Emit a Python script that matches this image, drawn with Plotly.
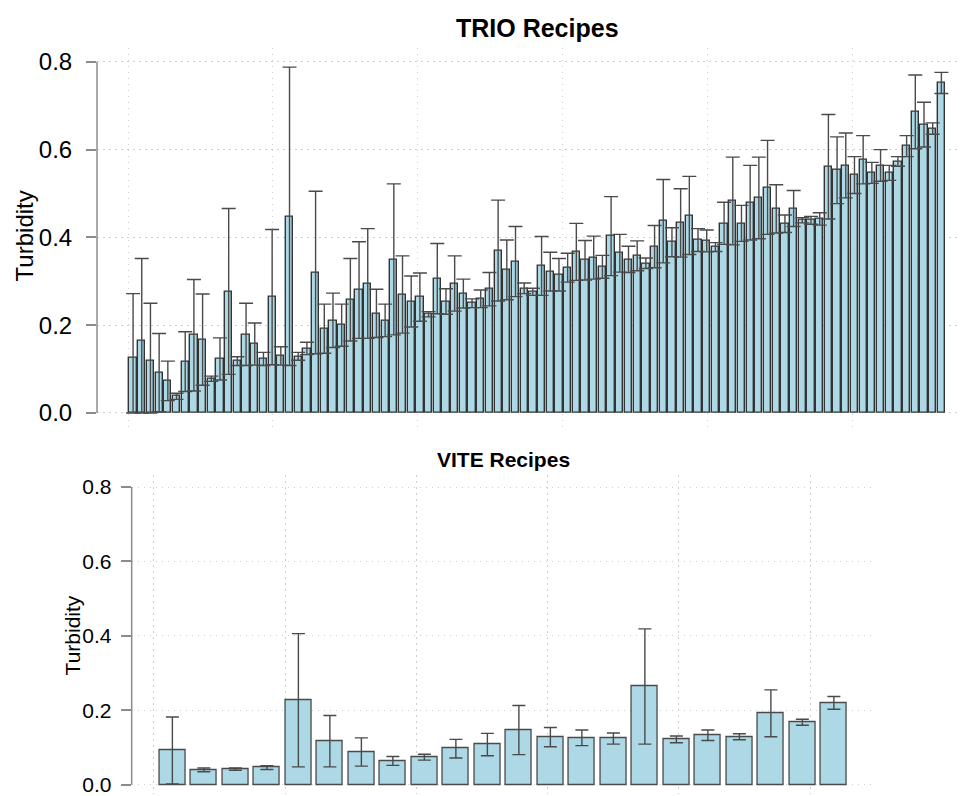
import plotly.graph_objects as go

# Mean turbidity and standard deviation per recipe, ordered by lower bound
trio_mean = [
    0.125, 0.164, 0.119, 0.092, 0.073, 0.038, 0.117, 0.177, 0.167, 0.078,
    0.123, 0.277, 0.118, 0.179, 0.157, 0.123, 0.264, 0.130, 0.448, 0.129,
    0.147, 0.320, 0.192, 0.211, 0.200, 0.258, 0.280, 0.295, 0.227, 0.211,
    0.350, 0.270, 0.254, 0.264, 0.225, 0.306, 0.254, 0.295, 0.272, 0.250,
    0.260, 0.282, 0.370, 0.326, 0.345, 0.284, 0.276, 0.335, 0.322, 0.315,
    0.331, 0.367, 0.348, 0.354, 0.333, 0.403, 0.364, 0.350, 0.358, 0.341,
    0.379, 0.437, 0.389, 0.433, 0.450, 0.394, 0.392, 0.378, 0.432, 0.483,
    0.432, 0.479, 0.490, 0.514, 0.465, 0.431, 0.466, 0.439, 0.439, 0.442,
    0.561, 0.553, 0.564, 0.542, 0.577, 0.547, 0.564, 0.547, 0.573, 0.608,
    0.686, 0.657, 0.648, 0.752,
]
trio_sd = [
    0.147, 0.188, 0.131, 0.089, 0.045, 0.007, 0.068, 0.127, 0.104, 0.006,
    0.048, 0.189, 0.010, 0.071, 0.048, 0.015, 0.154, 0.021, 0.340, 0.009,
    0.014, 0.185, 0.056, 0.062, 0.048, 0.094, 0.110, 0.125, 0.055, 0.037,
    0.172, 0.088, 0.058, 0.055, 0.006, 0.080, 0.029, 0.063, 0.033, 0.010,
    0.020, 0.038, 0.115, 0.068, 0.080, 0.012, 0.008, 0.067, 0.044, 0.037,
    0.033, 0.065, 0.045, 0.049, 0.026, 0.090, 0.043, 0.030, 0.034, 0.012,
    0.048, 0.095, 0.033, 0.078, 0.089, 0.026, 0.025, 0.010, 0.048, 0.100,
    0.041, 0.085, 0.093, 0.107, 0.055, 0.020, 0.041, 0.006, 0.009, 0.014,
    0.119, 0.076, 0.074, 0.042, 0.055, 0.024, 0.036, 0.017, 0.011, 0.024,
    0.084, 0.051, 0.013, 0.024,
]

vite_mean = [
    0.092, 0.040, 0.042, 0.046, 0.227, 0.117, 0.088, 0.064, 0.074, 0.097,
    0.108, 0.147, 0.128, 0.126, 0.124, 0.264, 0.122, 0.133, 0.129, 0.192,
    0.168, 0.220,
]
vite_sd = [
    0.090, 0.005, 0.003, 0.005, 0.179, 0.069, 0.038, 0.012, 0.008, 0.025,
    0.030, 0.066, 0.026, 0.021, 0.015, 0.155, 0.009, 0.014, 0.008, 0.063,
    0.008, 0.017,
]

y_ticks = [0.0, 0.2, 0.4, 0.6, 0.8]
y_tick_labels = ["0.0", "0.2", "0.4", "0.6", "0.8"]

W, H = 961, 796
FONT = "Liberation Sans, Arial, Helvetica, sans-serif"
BAR_FILL = "#ADD8E6"
GRID = "#cfcfcf"
GRID_DASH = "1.5px,4.5px"
AXIS_GREY = "#8c8c8c"


def bar_centres(n):
    # barplot layout: unit-width bars separated by 0.2
    return [1.2 * k - 0.5 for k in range(1, n + 1)]


def lower_err(mean, sd):
    # turbidity cannot drop below zero
    return [min(s, m) for m, s in zip(mean, sd)]


def px_x(p):
    return p / W


def px_y(p):
    return 1 - p / H


fig = go.Figure()

fig.add_trace(go.Bar(
    x=bar_centres(len(trio_mean)), y=trio_mean, width=1.0,
    marker=dict(color=BAR_FILL, line=dict(color="#333333", width=1.4)),
    error_y=dict(type="data", symmetric=False, array=trio_sd,
                 arrayminus=lower_err(trio_mean, trio_sd),
                 color="#4a4a4a", thickness=1.4, width=7),
    xaxis="x", yaxis="y", showlegend=False,
))

fig.add_trace(go.Bar(
    x=bar_centres(len(vite_mean)), y=vite_mean, width=1.0,
    marker=dict(color=BAR_FILL, line=dict(color="#4a4a4a", width=1.3)),
    error_y=dict(type="data", symmetric=False, array=vite_sd,
                 arrayminus=lower_err(vite_mean, vite_sd),
                 color="#4a4a4a", thickness=1.4, width=6.5),
    xaxis="x2", yaxis="y2", showlegend=False,
))

grid_common = dict(showgrid=True, gridcolor=GRID, griddash=GRID_DASH, gridwidth=1,
                   zeroline=False, showline=False)

# Top panel: x pixel 128 is position 0, 7.243 px per unit; y pixel 414 is 0, 440 px per unit
top_x_range = [(97 - 128) / 7.243, (W - 128) / 7.243]
top_y_range = [-0.032, 0.832]
top_dom_y = [px_y(414 + 0.032 * 440), px_y(414 - 0.832 * 440)]

# Bottom panel: x pixel 154 is position 0, 26.25 px per unit; y pixel 786.7 is 0, 373 px per unit
bot_x_range = [-0.85, 27.45]
bot_dom_x = [px_x(154 - 0.85 * 26.25), px_x(154 + 27.45 * 26.25)]
bot_y_range = [(786.7 - H) / 373, 0.832]
bot_dom_y = [0.0, px_y(786.7 - 0.832 * 373)]

fig.update_layout(
    width=W, height=H, autosize=False,
    margin=dict(l=0, r=0, t=0, b=0, pad=0),
    paper_bgcolor="white", plot_bgcolor="white",
    font=dict(family=FONT, color="black"),
    bargap=0,
    xaxis=dict(domain=[px_x(97), 1.0], range=top_x_range, anchor="y",
               tickvals=[0, 20, 40, 60, 80, 100], showticklabels=False, ticks="",
               **grid_common),
    yaxis=dict(domain=top_dom_y, range=top_y_range, anchor="x",
               tickvals=y_ticks, ticktext=y_tick_labels,
               ticks="outside", ticklen=10, tickwidth=1.5, tickcolor=AXIS_GREY,
               ticklabelstandoff=9, ticklabeloverflow="allow",
               tickfont=dict(size=24, family=FONT, color="black"),
               **grid_common),
    xaxis2=dict(domain=bot_dom_x, range=bot_x_range, anchor="y2",
                tickvals=[0, 5, 10, 15, 20, 25], showticklabels=False, ticks="",
                **grid_common),
    yaxis2=dict(domain=bot_dom_y, range=bot_y_range, anchor="x2",
                tickvals=y_ticks, ticktext=y_tick_labels,
                ticks="outside", ticklen=10, tickwidth=1.5, tickcolor=AXIS_GREY,
                ticklabelstandoff=5, ticklabeloverflow="allow",
                tickfont=dict(size=21, family=FONT, color="black"),
                **grid_common),
)

# Left axis lines spanning only the labelled range
fig.add_shape(type="line", xref="x domain", yref="y", x0=0, x1=0, y0=0, y1=0.8,
              line=dict(color=AXIS_GREY, width=1.5))
fig.add_shape(type="line", xref="x2 domain", yref="y2", x0=0, x1=0, y0=0, y1=0.8,
              line=dict(color=AXIS_GREY, width=1.5))

# Panel titles and y-axis labels
fig.add_annotation(text="<b>TRIO Recipes</b>", xref="paper", yref="paper",
                   x=px_x(537), y=px_y(28), xanchor="center", yanchor="middle",
                   showarrow=False, font=dict(size=25, family=FONT, color="black"))
fig.add_annotation(text="<b>VITE Recipes</b>", xref="paper", yref="paper",
                   x=px_x(503.5), y=px_y(461), xanchor="center", yanchor="middle",
                   showarrow=False, font=dict(size=21, family=FONT, color="black"))
fig.add_annotation(text="Turbidity", xref="paper", yref="paper", textangle=-90,
                   x=px_x(24), y=px_y(237), xanchor="center", yanchor="middle",
                   showarrow=False, font=dict(size=24, family=FONT, color="black"))
fig.add_annotation(text="Turbidity", xref="paper", yref="paper", textangle=-90,
                   x=px_x(72), y=px_y(637), xanchor="center", yanchor="middle",
                   showarrow=False, font=dict(size=21, family=FONT, color="black"))

fig.write_html("out.html")
